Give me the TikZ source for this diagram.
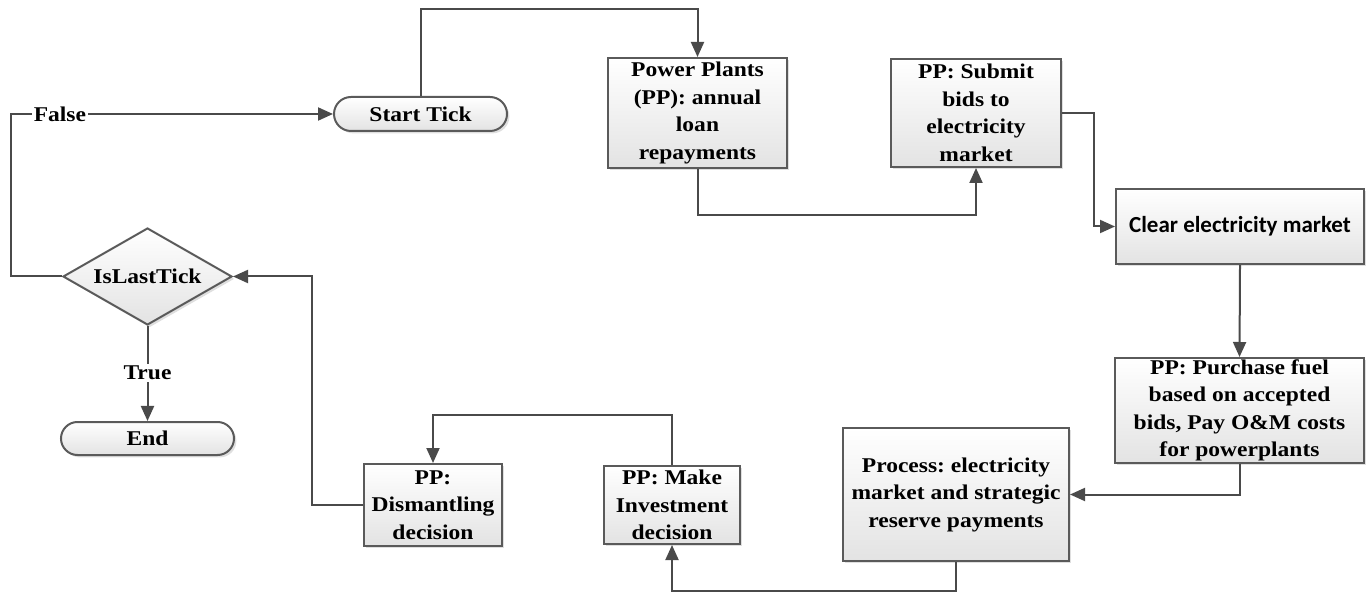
\documentclass[tikz,border=0pt]{standalone}
\usepackage{fontspec}
\setmainfont{Liberation Serif}[FakeStretch=1.12]
\newfontfamily\calibrifont{Carlito}
\usetikzlibrary{arrows.meta,shapes.geometric,shapes.misc,shadows}
\frenchspacing

\definecolor{linegray}{HTML}{4A4A4A}
\definecolor{edgegray}{HTML}{5A5A5A}

\tikzset{
  box/.style={draw=edgegray, line width=1pt, top color=white, bottom color=black!11,
    drop shadow={shadow xshift=1.2pt, shadow yshift=-1.2pt, opacity=0.25, fill=black!50},
    align=center, inner sep=0pt,
    font=\bfseries\fontsize{10.5}{13.75}\selectfont},
  term/.style={box, rounded rectangle},
  decision/.style={box, diamond, aspect=1.74, minimum width=84.5pt, minimum height=48.5pt},
  flow/.style={draw=linegray, line width=1pt, -{Triangle[length=7.5pt,width=6.5pt]}},
  lbl/.style={fill=white, inner sep=1pt, font=\bfseries\fontsize{10.5}{13.75}\selectfont}
}

\begin{document}
\begin{tikzpicture}[x=0.5pt, y=-0.5pt]
  \useasboundingbox (0,0) rectangle (1368,592);

  % steps of one tick
  \node[term, minimum width=86.5pt, minimum height=17pt] (start) at (420.5,114) {Start Tick};
  \node[box, minimum width=89.5pt, minimum height=55pt] (loan) at (697.5,113)
    {Power Plants\\(PP): annual\\loan\\repayments};
  \node[box, minimum width=85pt, minimum height=54pt] (bids) at (976,113)
    {PP: Submit\\bids to\\electricity\\market};
  \node[box, minimum width=124pt, minimum height=37.5pt,
    font=\calibrifont\bfseries\fontsize{11.5}{14}\selectfont] (clear) at (1240,226.5)
    {Clear electricity market};
  \node[box, minimum width=124.5pt, minimum height=52.5pt] (fuel) at (1239.5,410.5)
    {PP: Purchase fuel\\based on accepted\\bids, Pay O\&M costs\\for powerplants};
  \node[box, minimum width=113pt, minimum height=66.5pt] (pay) at (956,494.5)
    {Process: electricity\\market and strategic\\reserve payments};
  \node[box, minimum width=68pt, minimum height=39pt] (invest) at (672,505)
    {PP: Make\\Investment\\decision};
  \node[box, minimum width=69pt, minimum height=41pt] (dismantle) at (433,505)
    {PP:\\Dismantling\\decision};
  \node[decision] (last) at (147.5,276.5) {IsLastTick};
  \node[term, minimum width=86.5pt, minimum height=16.5pt] (stop) at (147.5,438.5) {End};

  % connectors
  \draw[flow] (start.north) -- ++(0,-87) -| (loan.north);
  \draw[flow] (loan.south) -- ++(0,46) -| (bids.south);
  \draw[flow] (bids.east) -- ++(32,0) |- (clear.west);
  \draw[flow] (clear.south) -- (fuel.north);
  \draw[flow] (fuel.south) |- (pay.east);
  \draw[flow] (pay.south) -- ++(0,29) -| (invest.south);
  \draw[flow] (invest.north) -- ++(0,-50) -| (dismantle.north);
  \draw[flow] (dismantle.west) -- ++(-51,0) |- (last.east);
  \draw[flow] (last.west) -- ++(-51,0) |- (start.west) node[lbl, pos=0.576] {False};
  \draw[flow] (last.south) -- (stop.north) node[lbl, pos=0.49] {True};
\end{tikzpicture}
\end{document}
